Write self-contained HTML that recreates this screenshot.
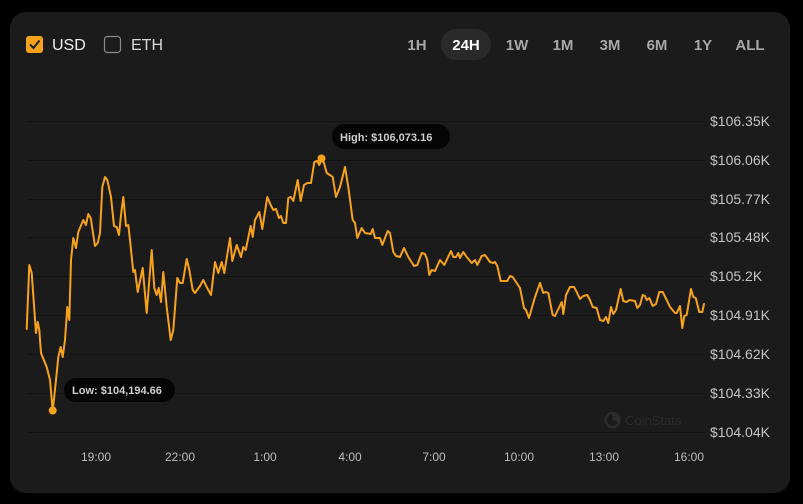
<!DOCTYPE html>
<html><head><meta charset="utf-8"><style>
html,body{margin:0;padding:0;background:#000;}
body{width:803px;height:504px;overflow:hidden;position:relative;font-family:"Liberation Sans",Arial,sans-serif;}
.card{position:absolute;left:10px;top:12px;width:780px;height:481px;background:#1b1b1b;border-radius:16px;}
svg{position:absolute;left:0;top:0;}
</style></head><body>
<div class="card"></div>
<svg width="803" height="504" viewBox="0 0 803 504" xmlns="http://www.w3.org/2000/svg" font-family="Liberation Sans, Arial, sans-serif">
  <!-- header -->
  <rect x="26" y="36" width="17" height="17" rx="3" fill="#f7a21b"/>
  <path d="M30 44.5 L33.5 48 L39.5 40.5" stroke="#1b1b1b" stroke-width="2" fill="none"/>
  <text x="52" y="50" font-size="16" fill="#f0f0f0">USD</text>
  <rect x="104.5" y="36.5" width="16" height="16" rx="3" fill="none" stroke="#8a8a8a" stroke-width="1.2"/>
  <text x="131" y="50" font-size="16" fill="#d8d8d8">ETH</text>

  <rect x="441" y="29" width="50" height="31" rx="15.5" fill="#2a2a2a"/>
  <g font-size="15" font-weight="bold" fill="#a8a8a8" text-anchor="middle">
    <text x="417" y="50">1H</text>
    <text x="466" y="50" fill="#ffffff">24H</text>
    <text x="517" y="50">1W</text>
    <text x="563" y="50">1M</text>
    <text x="610" y="50">3M</text>
    <text x="657" y="50">6M</text>
    <text x="703" y="50">1Y</text>
    <text x="750" y="50">ALL</text>
  </g>

  <!-- grid -->
  <g stroke="#121212" stroke-width="1">
    <line x1="28" y1="121.5" x2="703" y2="121.5"/>
    <line x1="28" y1="160.5" x2="703" y2="160.5"/>
    <line x1="28" y1="199.5" x2="703" y2="199.5"/>
    <line x1="28" y1="237.5" x2="703" y2="237.5"/>
    <line x1="28" y1="276.5" x2="703" y2="276.5"/>
    <line x1="28" y1="315.5" x2="703" y2="315.5"/>
    <line x1="28" y1="354.5" x2="703" y2="354.5"/>
    <line x1="28" y1="393.5" x2="703" y2="393.5"/>
    <line x1="28" y1="432.5" x2="703" y2="432.5"/>
  </g>
  <g font-size="14" fill="#c4c4c4">
    <text x="710" y="126">$106.35K</text>
    <text x="710" y="165">$106.06K</text>
    <text x="710" y="204">$105.77K</text>
    <text x="710" y="242">$105.48K</text>
    <text x="710" y="281">$105.2K</text>
    <text x="710" y="320">$104.91K</text>
    <text x="710" y="359">$104.62K</text>
    <text x="710" y="398">$104.33K</text>
    <text x="710" y="437">$104.04K</text>
  </g>
  <g font-size="12" fill="#bdbdbd" text-anchor="middle">
    <text x="96" y="461">19:00</text>
    <text x="180" y="461">22:00</text>
    <text x="265" y="461">1:00</text>
    <text x="350" y="461">4:00</text>
    <text x="434" y="461">7:00</text>
    <text x="519" y="461">10:00</text>
    <text x="604" y="461">13:00</text>
    <text x="689" y="461">16:00</text>
  </g>

  <!-- watermark -->
  <circle cx="612.5" cy="420" r="7" fill="none" stroke="#2c2c2c" stroke-width="2.5"/>
  <path d="M612.5 420 L612.5 413 A7 7 0 0 1 619 422 Z" fill="#2c2c2c"/>
  <text x="625" y="425" font-size="13" fill="#2c2c2c">CoinStats</text>

  <!-- line -->
  <polyline fill="none" stroke="#f7a21b" stroke-width="2" stroke-linejoin="round" stroke-linecap="round" points="
26.7,329 29.3,265 31.7,273 36,333 37.7,322 39.3,330 41,353 46.7,367 50,380 52.7,411 56,380 58.3,357 60.7,347 62.7,357 65,340 67.3,307 69.3,320 71,260 73.3,238 76,248 78.3,232 83.3,220 86,225 88.3,214 90.7,218 95,246 97.7,243 100,233 102.3,187 105,177 107.3,180 111,197 114,226 116.7,227 119,235 121,215 123.3,197 126,226 128.3,225 130,240 133.3,272 135,270 137.7,292 142.7,268 146.7,313 151.7,250 154.3,288 156.7,295 158.7,288 161,302 163.3,272 166.7,307 170.7,340 173.3,330 177.3,278 180,283 182.7,283 186.7,259 189.3,270 192.7,290 195,293 200,286 203.3,280 206.7,287 211,295 215,262 218.3,273 221.7,262 224.3,273 230,238 232.3,261 236.7,245 241,257 243.3,247 245.7,250 250.7,226 252.7,237 255,220 259.3,212 262.3,229 267.3,197 270.7,205 273.3,210 276,209 279,218 281,216 283.3,223 286,223 288.3,198 290.7,197 293.3,201 297.7,180 300.7,201 304,185 307.3,183 311,183 314.3,162 317.3,161 319.3,165 321.7,159 324,163 326.7,173 330,175 332.7,177 336,197 340,187 345,167 348.3,187 352.7,220 355,223 357.3,238 361.7,228 365,233 370.7,234 372.7,229 375,238 380,238 382.3,245 387.7,231 390,233 393.3,252 396,256 400,257 404,248 408.3,257 414,266 417.3,265 421.7,253 425,254 427.3,260 429.3,275 431.7,270 435,271 440,260 444.3,265 451,251 453.3,257 456,257 458.3,253 460,258 463.3,252 466.7,257 471.7,263 475,260 477.3,265 481.7,256 485,255 490,262 493.3,263 495,262 497.3,266 500.7,281 507.3,281 510,276 512.7,277 520,288 524,308 526,310 529,318 535,297 540,283 543.3,293 545.7,292 548.3,293 552.7,315 555,316 561.7,302 563.3,314 566,295 570,287 574,287 576.7,292 580,299 583.3,296 587.3,295 590,300 592.7,307 596.7,308 600,320 603.3,321 606,317 608.3,323 611,307 613.3,314 616,310 620.7,289 623.3,301 626.7,302 629.3,300 635,301 637.3,308 640,305 642.7,295 645,296 646.7,300 649.3,298 652.7,306 656,304 659.3,292 662.7,292 666.7,300 670,307 675,313 676.7,313 680,306 682.3,328 684.3,316 686.7,315 691,289 693.3,297 695.7,298 699.3,312 702.3,312 704,304"/>
  <circle cx="52.7" cy="410.5" r="4" fill="#f7a21b"/>
  <circle cx="321.5" cy="158.5" r="4" fill="#f7a21b"/>

  <!-- pills -->
  <rect x="332" y="124" width="118" height="25" rx="12.5" fill="#050505"/>
  <text x="340" y="141" font-size="11" font-weight="bold" fill="#cfcfcf">High: $106,073.16</text>
  <rect x="64" y="378" width="111" height="24" rx="12" fill="#050505"/>
  <text x="72" y="394" font-size="11" font-weight="bold" fill="#cfcfcf">Low: $104,194.66</text>
</svg>
</body></html>
